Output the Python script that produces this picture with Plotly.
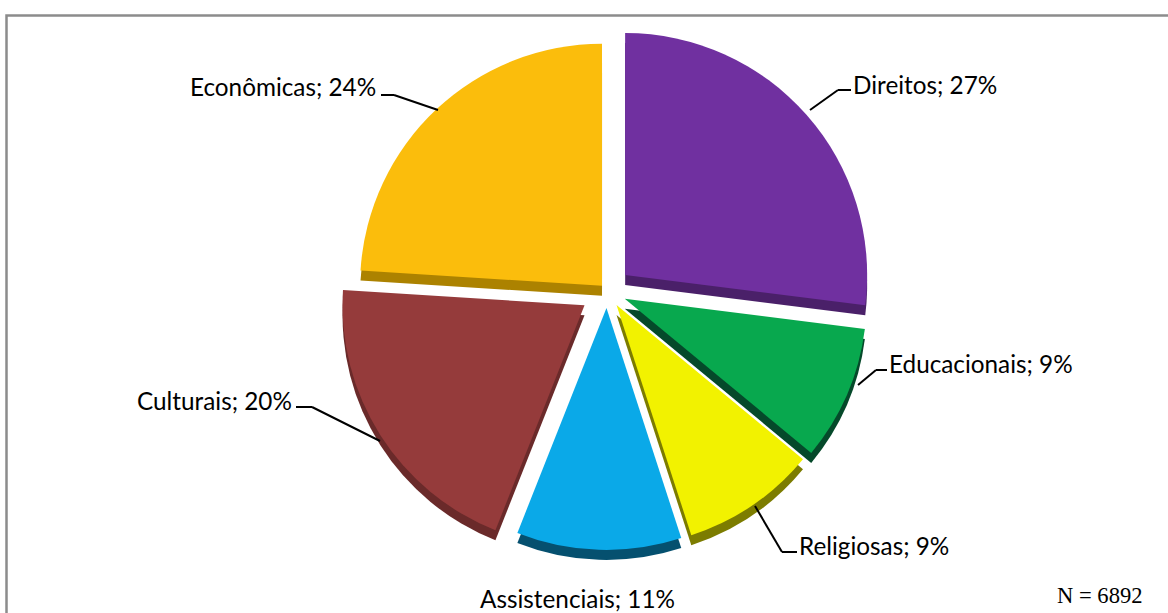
import plotly.graph_objects as go

categories = ["Direitos", "Educacionais", "Religiosas", "Assistenciais", "Culturais", "Econômicas"]
shares = [27, 9, 9, 11, 20, 24]
face_colors = ["#7030A0", "#08A84E", "#F2F200", "#0AA9E8", "#953B3B", "#FBBD0C"]
side_colors = ["#4A2069", "#05492A", "#7C7C00", "#05506F", "#6A2A2A", "#AC8200"]
explode = [0.10, 0.08, 0.07, 0.07, 0.11, 0.03]

# Label anchors and leader polylines, in page pixels
label_text = [f"{c}; {v}%" for c, v in zip(categories, shares)]
label_pos = [(851, 84), (887, 363), (797, 545), (478, 598), (135, 400), (188, 86)]
leaders = [
    [(810, 110), (838, 90), (851, 90)],
    [(858, 385), (876, 370), (887, 370)],
    [(755, 506), (782, 552), (797, 552)],
    [],
    [(380, 441), (312, 407), (296, 407)],
    [(438, 110), (394, 95), (381, 95)],
]

W, H = 1168, 613


def px(x):
    return x / W


def py(y):
    return 1 - y / H


def pie(colors, cx, cy, r):
    total = r * (1 + max(explode))
    return go.Pie(
        labels=categories,
        values=shares,
        sort=False,
        direction="clockwise",
        rotation=0,
        pull=explode,
        textinfo="none",
        hoverinfo="label+percent",
        marker=dict(colors=colors, line=dict(width=0)),
        domain=dict(x=[px(cx - total), px(cx + total)], y=[py(cy + total), py(cy - total)]),
        showlegend=False,
    )


fig = go.Figure()
fig.add_trace(pie(side_colors, 607, 301, 242))
fig.add_trace(pie(face_colors, 607, 291, 242))

shapes = [
    dict(type="rect", xref="paper", yref="paper", x0=px(6.5), x1=px(1180), y0=py(15.5), y1=py(630),
         line=dict(color="#8C8C8C", width=2.5), fillcolor="rgba(0,0,0,0)")
]
for path in leaders:
    for (x0, y0), (x1, y1) in zip(path, path[1:]):
        shapes.append(dict(type="line", xref="paper", yref="paper", x0=px(x0), x1=px(x1),
                           y0=py(y0), y1=py(y1), line=dict(color="black", width=2)))

annotations = [
    dict(text=t, x=px(x), y=py(y), xref="paper", yref="paper", xanchor="left", yanchor="middle",
         showarrow=False, font=dict(family="Lato", size=24.3, color="black"))
    for t, (x, y) in zip(label_text, label_pos)
]
annotations.append(dict(text="N = 6892", x=px(1055), y=py(595), xref="paper", yref="paper",
                        xanchor="left", yanchor="middle", showarrow=False,
                        font=dict(family="Liberation Serif", size=22.6, color="black")))

fig.update_layout(
    width=W, height=H, margin=dict(l=0, r=0, t=0, b=0),
    paper_bgcolor="white", shapes=shapes, annotations=annotations,
)
fig.write_html("out.html")
